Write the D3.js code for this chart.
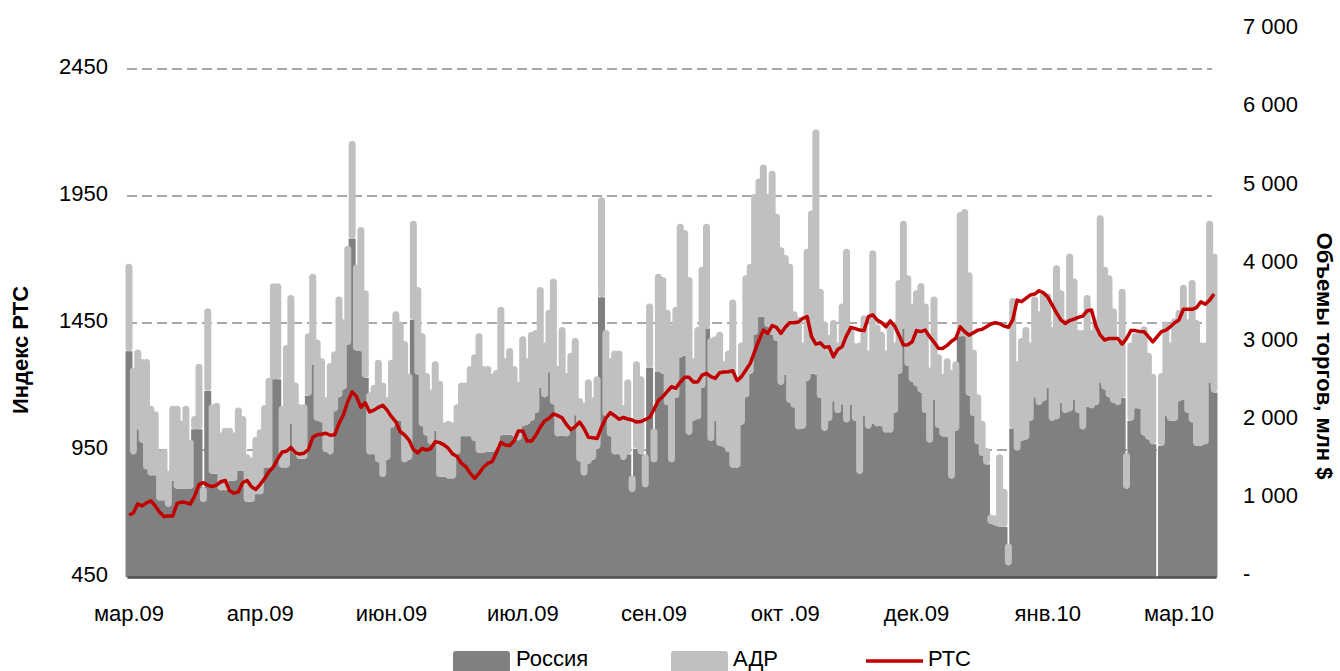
<!DOCTYPE html>
<html>
<head>
<meta charset="utf-8">
<script src="https://cdn.jsdelivr.net/npm/d3@7"></script>
<style>
  body { margin: 0; background: #fff; }
  svg { display: block; }
  text { font-family: 'Liberation Sans Narrow', 'Arial Narrow', 'Liberation Sans', Arial, sans-serif; fill: #000; }
</style>
</head>
<body>
<div id="chart"></div>
<script>
// month labels, one every 30 trading days
const monthLabels = ['мар.09', 'апр.09', 'июн.09', 'июл.09', 'сен.09', 'окт .09', 'дек.09', 'янв.10', 'мар.10'];
const rtsTicks = [450, 950, 1450, 1950, 2450];
const volTicks = [0, 1000, 2000, 3000, 4000, 5000, 6000, 7000];

// daily trading volumes, mln $
const russia = [
  2890, 1570, 1890, 1720, 1380, 1300, 1300, 980, 980, 900, 1230, 1130, 1130, 1130, 1130, 1890, 1890, 960, 2380, 1320,
  1320, 1110, 1110, 1230, 1230, 1360, 1360, 960, 960, 1060, 1060, 1400, 1400, 2530, 2530, 1400, 1400, 1960, 1570, 1510,
  1510, 2320,
  2720, 2000, 1980, 1600, 1570, 2120, 2300, 2400, 2970, 4330, 2900, 2890, 2550, 1570, 1570, 1470, 1280, 1500, 1910, 2000,
  2000, 1470, 1500, 3290, 2590, 1930, 1810, 1700, 1870, 1280, 1280, 1260, 1260, 1570, 1800, 1800, 1800, 1740, 1590, 1590,
  1600,
  1600, 1640, 1810, 1820, 1820, 1800, 1750, 1930, 1950, 2000, 2100, 2420, 2300, 2620, 2210, 1800, 1810, 1800, 1900, 2070,
  1480, 1300, 1450, 1500, 1640, 3580, 2060, 1800, 1570, 1570, 1500, 1570, 1090, 1640, 1570, 1150, 2680, 1470, 2630, 2600,
  2200, 1470,
  2290, 2810, 2830, 1820, 2000, 2020, 2420, 3180, 1740, 2000, 1680, 1660, 1600, 1400, 1400, 1950, 2300, 2600, 3100, 3330,
  3330, 3200, 3100, 3020, 2460, 2590, 2230, 2170, 1890, 1900, 2510, 2600, 2590, 2290, 1870, 2000, 2250, 2100, 2210, 1980,
  2210,
  2000, 1320, 2060, 1900, 1960, 1930, 1930, 1850, 1850, 2100, 2600, 3180, 2700, 2500, 2440, 2360, 2100, 1720, 2270, 1910,
  1800, 1790, 1260, 1870, 3080, 3080, 2320, 2060, 1700, 1550, 1440, 680, 660, 640, 640, 150, 1900, 1620, 1740, 1760,
  2000,
  2300, 2200, 2250, 2420, 2000, 2020, 2230, 2100, 2120, 2270, 2100, 1890, 2180, 2160, 2200, 2490, 2400, 2300, 2230, 2200,
  2290, 1130, 2000, 2160, 2150, 1810, 1760, 1700, 0, 1680, 2060, 2000, 2000, 2250, 2270, 2100, 1980, 1680, 1680, 1700,
  2490, 2360,
];

const adr = [
  1120, 1110, 1020, 1070, 1410, 890, 820, 640, 660, 460, 960, 1060, 870, 1060, 630, 170, 840, 190, 1060, 890,
  910, 740, 800, 680, 620, 810, 700, 610, 570, 730, 830, 800, 1150, 1230, 1230, 790, 1570, 1650, 920, 700,
  700, 800,
  1160, 1040, 820, 700, 1170, 770, 1290, 900, 1270, 1250, 1100, 1590, 1120, 790, 890, 1310, 1210, 800, 870, 1400,
  1270, 1550, 1100, 1270, 1120, 1190, 800, 700, 890, 1230, 700, 740, 720, 640, 690, 690, 900, 1110, 1530, 1110,
  1100,
  1000, 1010, 1650, 980, 1110, 900, 750, 1150, 850, 1140, 1060, 1290, 700, 800, 1610, 900, 1390, 810, 970, 990,
  810, 930, 1080, 800, 930, 1280, 1100, 1000, 1330, 1330, 700, 960, 210, 1120, 1000, 420, 820, 430, 1250, 1240,
  1220, 1760,
  1170, 1710, 1610, 2020, 800, 1180, 1550, 1340, 1320, 1080, 1460, 1100, 1300, 2150, 1090, 1050, 1560, 1410, 1800, 1770,
  1950, 1700, 2100, 1630, 1760, 1530, 1780, 1230, 1440, 1100, 1690, 2090, 3140, 1400, 1400, 1100, 1040, 900, 1290, 2220,
  970,
  990, 1680, 1290, 1000, 2220, 1300, 1210, 1050, 1420, 900, 1200, 1380, 1160, 1000, 1230, 1400, 1400, 960, 1320, 940,
  800, 1010, 1390, 890, 1590, 1630, 1580, 850, 640, 450, 210, 120, 130, 930, 490, 280, 1670, 1140, 1320, 1440,
  1000,
  1290, 1200, 1400, 1210, 1200, 1970, 1440, 1200, 2020, 1550, 1060, 1270, 1430, 1000, 1100, 2140, 1570, 1560, 1210, 800,
  1400, 460, 1000, 960, 1010, 1400, 1110, 900, 0, 930, 1210, 1000, 1310, 1170, 1470, 1200, 1820, 1610, 1320, 1300,
  2070, 1780,
];

// RTS index, close
const rts = [
  694, 702, 738, 730, 742, 750, 730, 705, 688, 690, 690, 740, 745, 743, 737, 768, 815, 821, 812, 806,
  812, 825, 830, 790, 780, 785, 822, 830, 805, 795, 815, 838, 865, 883, 915, 942, 945, 960, 940, 934,
  937, 952,
  1000, 1010, 1012, 1016, 1008, 1010, 1055, 1088, 1140, 1179, 1160, 1118, 1136, 1100, 1107, 1118, 1126, 1107, 1081, 1061,
  1022, 1009, 989, 952, 939, 956, 950, 956, 983, 979, 970, 956, 934, 924, 897, 884, 858, 838, 858, 882,
  897,
  904, 940, 980, 970, 968, 985, 1025, 1025, 985, 985, 1008, 1040, 1064, 1075, 1092, 1085, 1077, 1050, 1030, 1042,
  1060, 1035, 1000, 998, 995, 1040, 1075, 1097, 1085, 1071, 1078, 1072, 1068, 1060, 1062, 1070, 1078, 1110, 1145, 1160,
  1180, 1199,
  1193, 1218, 1236, 1236, 1218, 1218, 1245, 1252, 1239, 1232, 1254, 1257, 1258, 1262, 1223, 1239, 1265, 1291, 1337, 1383,
  1422, 1409, 1440, 1433, 1409, 1433, 1451, 1451, 1454, 1468, 1475, 1396, 1367, 1372, 1354, 1357, 1317, 1346, 1357, 1400,
  1433,
  1428, 1422, 1420, 1475, 1482, 1462, 1452, 1435, 1458, 1438, 1402, 1363, 1364, 1376, 1420, 1416, 1422, 1396, 1375, 1351,
  1350, 1362, 1378, 1390, 1435, 1416, 1402, 1412, 1422, 1425, 1435, 1446, 1451, 1447, 1438, 1433, 1462, 1540, 1534, 1547,
  1560,
  1564, 1577, 1569, 1552, 1521, 1490, 1462, 1448, 1460, 1465, 1472, 1477, 1498, 1501, 1438, 1402, 1383, 1389, 1389, 1389,
  1367, 1389, 1420, 1420, 1417, 1416, 1396, 1376, 1396, 1416, 1422, 1435, 1451, 1462, 1504, 1504, 1504, 1511, 1533, 1524,
  1540, 1564,
];

const width = 1340;
const height = 671;
const barWidth = 7;

const svg = d3.select('#chart').append('svg')
  .attr('width', width)
  .attr('height', height);

const x = d3.scaleBand()
  .domain(d3.range(russia.length))
  .range([126.8, 1216.2]);
const cx = (i) => x(i) + x.bandwidth() / 2;

const yRts = d3.scaleLinear().domain([450, 2450]).range([577, 69]);
const yVol = d3.scaleLinear().domain([0, 7000]).range([577, 30]);

// dashed grid on the RTS axis
svg.append('g').selectAll('line')
  .data(rtsTicks.slice(1))
  .enter()
  .append('line')
  .attr('x1', 127)
  .attr('x2', 1212)
  .attr('y1', (d) => yRts(d))
  .attr('y2', (d) => yRts(d))
  .attr('stroke', '#8c8c8c')
  .attr('stroke-width', 1.3)
  .attr('stroke-dasharray', '10,5');

// Россия bars
svg.append('g').selectAll('rect')
  .data(russia)
  .enter()
  .append('rect')
  .attr('x', (d, i) => cx(i) - barWidth / 2)
  .attr('width', (d) => (d > 0 ? barWidth : 0))
  .attr('y', (d) => yVol(d))
  .attr('height', (d) => yVol(0) - yVol(d))
  .attr('fill', '#808080');

// АДР stacked on top
svg.append('g').selectAll('rect')
  .data(adr)
  .enter()
  .append('rect')
  .attr('x', (d, i) => cx(i) - barWidth / 2)
  .attr('width', (d) => (d > 0 ? barWidth : 0))
  .attr('y', (d, i) => yVol(russia[i] + d))
  .attr('height', (d, i) => yVol(russia[i]) - yVol(russia[i] + d))
  .attr('rx', 3.5)
  .attr('fill', '#c0c0c0');

// bottom axis with month labels
const xAxis = svg.append('g')
  .attr('transform', `translate(0,${yVol(0)})`)
  .call(d3.axisBottom(x)
    .tickValues(monthLabels.map((m, k) => k * 30))
    .tickFormat((d) => monthLabels[d / 30])
    .tickSize(0)
    .tickSizeOuter(0));
xAxis.select('.domain')
  .attr('stroke', '#505050')
  .attr('stroke-width', 2.5);
xAxis.selectAll('text')
  .attr('y', 43.5)
  .attr('dy', 0)
  .style('font-size', '22px');

const yLeft = svg.append('g')
  .attr('transform', 'translate(108,0)')
  .call(d3.axisLeft(yRts)
    .tickValues(rtsTicks)
    .tickFormat((d) => `${d}`)
    .tickSize(0)
    .tickPadding(0));
yLeft.select('.domain').remove();
yLeft.selectAll('text')
  .attr('dy', '0.2em')
  .style('font-size', '22px');

const yRight = svg.append('g')
  .attr('transform', 'translate(1243,0)')
  .call(d3.axisRight(yVol)
    .tickValues(volTicks)
    .tickFormat((d) => (d === 0 ? '-' : `${d / 1000} 000`))
    .tickSize(0)
    .tickPadding(0));
yRight.select('.domain').remove();
yRight.selectAll('text')
  .attr('dy', '0.17em')
  .style('font-size', '22px');

// RTS line
svg.append('path')
  .datum(rts)
  .attr('fill', 'none')
  .attr('stroke', '#c00000')
  .attr('stroke-width', 3.5)
  .attr('stroke-linejoin', 'round')
  .attr('d', d3.line().x((d, i) => cx(i)).y((d) => yRts(d)));

// axis titles
svg.append('text')
  .attr('transform', 'translate(28,350) rotate(-90)')
  .attr('text-anchor', 'middle')
  .style('font-size', '22px')
  .style('font-weight', 'bold')
  .text('Индекс РТС');

svg.append('text')
  .attr('transform', 'translate(1317,356) rotate(90)')
  .attr('text-anchor', 'middle')
  .style('font-size', '22px')
  .style('font-weight', 'bold')
  .text('Объемы торгов, млн $');

// legend, cut by the bottom edge as in the source
const legend = svg.append('g').style('font-size', '22px');
legend.append('rect').attr('x', 453).attr('y', 651).attr('width', 57).attr('height', 30)
  .attr('rx', 3).attr('fill', '#808080');
legend.append('text').attr('x', 516).attr('y', 666).text('Россия');
legend.append('rect').attr('x', 671).attr('y', 651).attr('width', 57).attr('height', 30)
  .attr('rx', 3).attr('fill', '#c0c0c0');
legend.append('text').attr('x', 733).attr('y', 666).text('АДР');
legend.append('line').attr('x1', 866).attr('x2', 923).attr('y1', 661).attr('y2', 661)
  .attr('stroke', '#c00000').attr('stroke-width', 3.5);
legend.append('text').attr('x', 928).attr('y', 666).text('РТС');
</script>
</body>
</html>
